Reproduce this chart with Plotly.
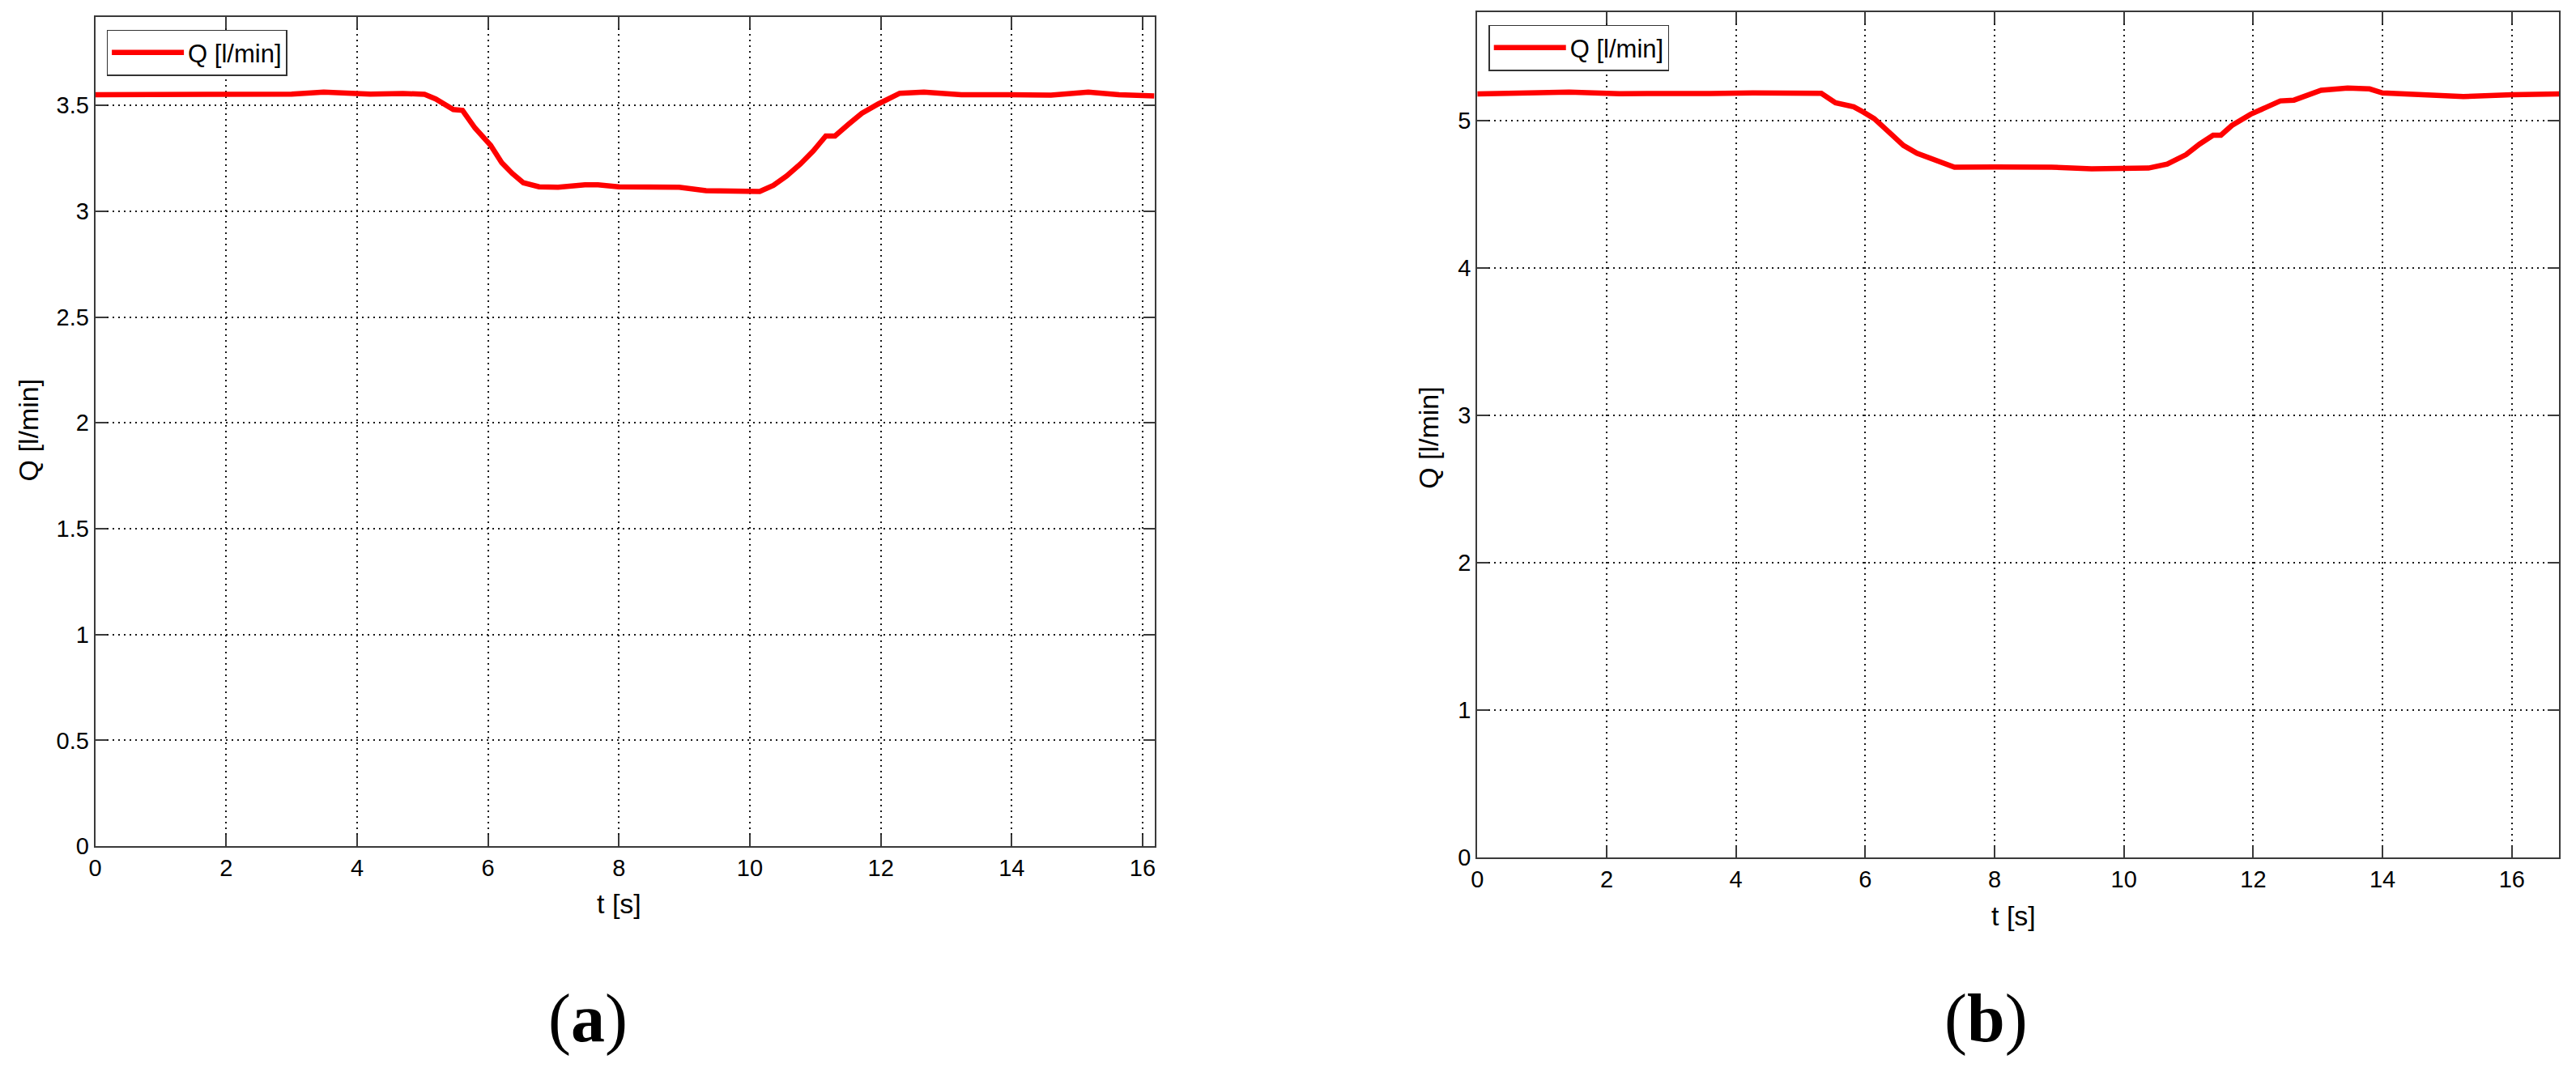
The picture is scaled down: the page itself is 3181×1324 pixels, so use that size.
import plotly.graph_objects as go

# ---- data ----
t_a = [0, 0.5, 1.0, 1.5, 1.95, 2.5, 3.0, 3.49, 4.2, 4.7, 5.03, 5.2, 5.35, 5.47, 5.61, 5.8,
       6.04, 6.21, 6.37, 6.54, 6.78, 7.07, 7.48, 7.68, 8.0, 8.51, 8.92, 9.33, 9.74, 10.15,
       10.36, 10.56, 10.77, 10.97, 11.16, 11.30, 11.51, 11.71, 11.96, 12.15, 12.29, 12.66,
       13.23, 13.98, 14.6, 15.17, 15.64, 16.18]
Q_a = [3.550, 3.550, 3.552, 3.555, 3.554, 3.554, 3.553, 3.562, 3.553, 3.556, 3.552, 3.53,
       3.50, 3.48, 3.476, 3.393, 3.311, 3.229, 3.178, 3.134, 3.115, 3.113, 3.124, 3.124,
       3.115, 3.116, 3.113, 3.097, 3.093, 3.093, 3.122, 3.166, 3.222, 3.285, 3.355, 3.355,
       3.411, 3.462, 3.506, 3.535, 3.557, 3.562, 3.550, 3.550, 3.548, 3.562, 3.550, 3.544]

t_b = [0, 0.7, 1.42, 2.2, 2.87, 3.6, 4.26, 4.9, 5.32, 5.54, 5.82, 5.97, 6.14, 6.39, 6.59,
       6.80, 7.01, 7.22, 7.38, 8.0, 8.88, 9.50, 10.0, 10.38, 10.67, 10.96, 11.17, 11.38,
       11.50, 11.67, 11.96, 12.2, 12.42, 12.63, 13.05, 13.46, 13.8, 14.0, 14.5, 15.25,
       16.0, 16.73]
Q_b = [5.180, 5.185, 5.193, 5.182, 5.180, 5.183, 5.187, 5.186, 5.184, 5.12, 5.093, 5.057,
       5.012, 4.912, 4.831, 4.777, 4.746, 4.708, 4.683, 4.684, 4.683, 4.672, 4.670, 4.677,
       4.704, 4.768, 4.84, 4.90, 4.90, 4.966, 5.042, 5.09, 5.133, 5.138, 5.205, 5.22,
       5.214, 5.187, 5.175, 5.162, 5.175, 5.18]

x_ticks = [0, 2, 4, 6, 8, 10, 12, 14, 16]
y_ticks_a = [0, 0.5, 1, 1.5, 2, 2.5, 3, 3.5]
y_ticks_a_text = ["0", "0.5", "1", "1.5", "2", "2.5", "3", "3.5"]
y_ticks_b = [0, 1, 2, 3, 4, 5]
series_name = "Q [l/min]"
x_title = "t [s]"
y_title = "Q [l/min]"

W, H = 3181, 1324
FONT = "Liberation Sans, Arial, sans-serif"

fig = go.Figure()
fig.add_trace(go.Scatter(x=t_a, y=Q_a, mode="lines", name=series_name,
                         line=dict(color="#ff0000", width=6.5),
                         xaxis="x", yaxis="y", legend="legend"))
fig.add_trace(go.Scatter(x=t_b, y=Q_b, mode="lines", name=series_name,
                         line=dict(color="#ff0000", width=6.5),
                         xaxis="x2", yaxis="y2", legend="legend2"))

axis_common = dict(
    showline=True, linecolor="#3a3a3a", linewidth=2, mirror="ticks",
    ticks="inside", ticklen=14, tickwidth=2, tickcolor="#3a3a3a",
    showgrid=True, gridcolor="#1a1a1a", gridwidth=1.5, griddash="2px,5px",
    zeroline=False, tickfont=dict(family=FONT, size=29, color="black"),
)

legend_common = dict(xanchor="left", yanchor="top", bgcolor="white",
                     bordercolor="#333333", borderwidth=1.5, itemwidth=89,
                     font=dict(family=FONT, size=31, color="black"))

fig.update_layout(
    width=W, height=H,
    margin=dict(l=0, r=0, t=0, b=0),
    paper_bgcolor="white", plot_bgcolor="white",
    font=dict(family=FONT, color="black"),
    xaxis=dict(domain=[110 / W, 1422 / W], range=[0, 16.18], tickvals=x_ticks,
               anchor="y", **axis_common),
    yaxis=dict(domain=[1 - 1058 / H, 1 - 21 / H], range=[0, 3.918], tickvals=y_ticks_a,
               ticktext=y_ticks_a_text, anchor="x", **axis_common),
    xaxis2=dict(domain=[1822 / W, 3162 / W], range=[0, 16.73], tickvals=x_ticks,
                anchor="y2", **axis_common),
    yaxis2=dict(domain=[1 - 1072 / H, 1 - 15 / H], range=[0, 5.736], tickvals=y_ticks_b,
                anchor="x2", **axis_common),
    legend=dict(x=124 / W, y=1 - 37 / H, **legend_common),
    legend2=dict(x=1836 / W, y=1 - 31 / H, **legend_common),
    showlegend=True,
)

ann = [
    dict(text=x_title, x=759 / W, y=1 - 1130 / H, size=34, angle=0),
    dict(text=x_title, x=2486 / W, y=1 - 1145 / H, size=34, angle=0),
    dict(text=y_title, x=27 / W, y=1 - 537 / H, size=34, angle=-90),
    dict(text=y_title, x=1762 / W, y=1 - 547 / H, size=34, angle=-90),
]
for a in ann:
    fig.add_annotation(text=a["text"], x=a["x"], y=a["y"], xref="paper", yref="paper",
                       xanchor="center", yanchor="middle", showarrow=False,
                       textangle=a["angle"],
                       font=dict(family=FONT, size=a["size"], color="black"))

for lbl, xpos in [("(<b>a</b>)", 720), ("(<b>b</b>)", 2452)]:
    fig.add_annotation(text=lbl, x=xpos / W, y=1 - 1273 / H, xref="paper", yref="paper",
                       xanchor="center", yanchor="middle", showarrow=False,
                       font=dict(family="Liberation Serif, Times New Roman, serif",
                                 size=84, color="black"))

page_fix = (
    "document.documentElement.style.margin='0';"
    "document.documentElement.style.padding='0';"
    "document.documentElement.style.overflow='hidden';"
    "document.documentElement.style.height='1324px';"
    "document.body.style.margin='0';"
    "document.body.style.padding='0';"
    "document.body.style.overflow='hidden';"
    "document.body.style.width='3181px';"
    "document.body.style.height='1324px';"
)

fig.write_html(
    "out.html",
    config={"displayModeBar": False},
    post_script=page_fix,
)
